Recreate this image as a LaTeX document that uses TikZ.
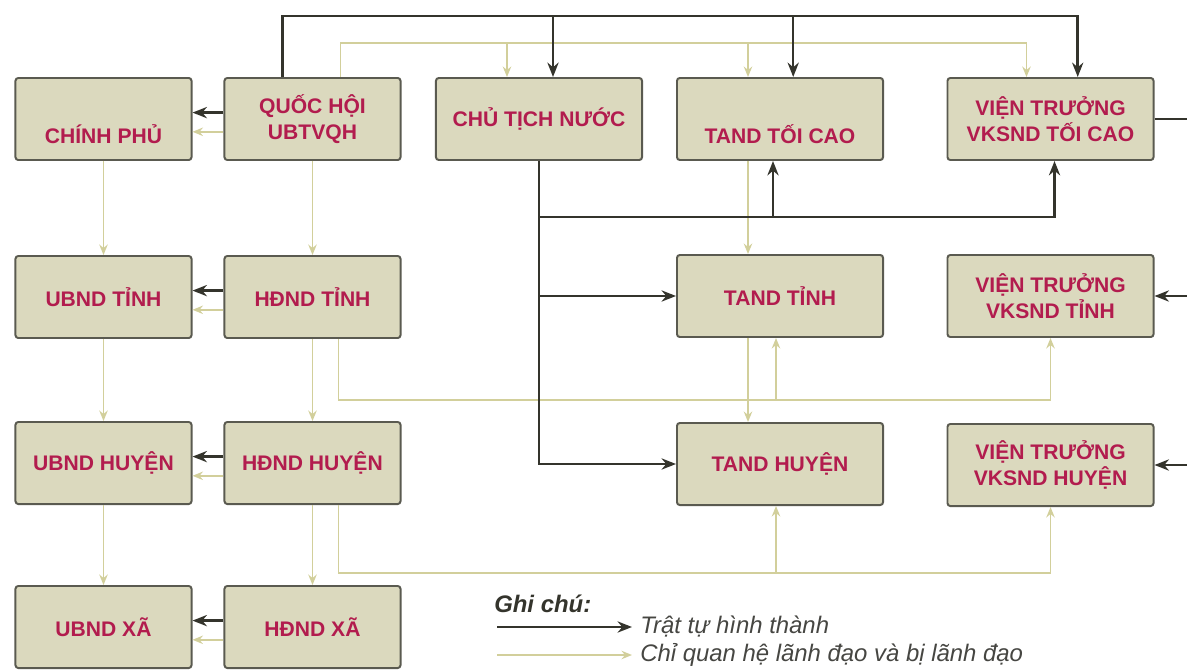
\documentclass[tikz,border=0pt]{standalone}
\usepackage{fontspec}
\setmainfont{Liberation Sans}
\usepackage{tikz}
\usepackage{xcolor}
\usetikzlibrary{arrows.meta, positioning, calc}
\definecolor{cBox}{RGB}{219,217,190}
\definecolor{cEdge}{RGB}{90,90,80}
\definecolor{cLabel}{RGB}{178,28,78}
\definecolor{cDark}{RGB}{52,52,44}
\definecolor{cLight}{RGB}{210,207,155}
\definecolor{cNote}{RGB}{70,70,66}
\tikzset{
	organ/.style    ={rectangle, rounded corners=2pt, draw=cEdge, line width=1.4pt, fill=cBox, minimum height=2.05cm, text centered, align=center, text=cLabel, font=\fontsize{15}{18}\selectfont\bfseries},
	narrow/.style   ={organ, minimum width=4.4cm},
	wide/.style     ={organ, minimum width=5.15cm},
	lowtext/.style  ={text height=1.2cm, text depth=0pt},
	% connector styles
	formline/.style ={line width=1.8pt, cDark},
	formarrow/.style={formline, -{Stealth[length=3.6mm, width=2.8mm]}},
	leadline/.style ={line width=1.3pt, cLight},
	leadarrow/.style={leadline, -{Stealth[length=2.6mm, width=2.1mm]}},
	% legend styles
	legtext/.style  ={anchor=west, inner sep=0pt, text=cNote, font=\fontsize{17}{19}\selectfont\itshape},
}

\begin{document}
\begin{tikzpicture}[x=0.025cm, y=-0.025cm]
\useasboundingbox (0,0) rectangle (1187,670);
\clip (0,0) rectangle (1187,670);
% boxes
\node[narrow, lowtext] (cp) at (103.5,119) {CHÍNH PHỦ};
\node[narrow] (qh) at (312.5,119) {QUỐC HỘI\\UBTVQH};
\node[wide] (ctn) at (539,119) {CHỦ TỊCH NƯỚC};
\node[wide, lowtext] (tc) at (780,119) {TAND TỐI CAO};
\node[wide] (vtc) at (1050.5,119) {VIỆN TRƯỞNG\\VKSND TỐI CAO};
\node[narrow] (ubt) at (103.5,297) {UBND TỈNH};
\node[narrow] (hdt) at (312.5,297) {HĐND TỈNH};
\node[wide] (tt) at (780,296) {TAND TỈNH};
\node[wide] (vtt) at (1050.5,296) {VIỆN TRƯỞNG\\VKSND TỈNH};
\node[narrow] (ubh) at (103.5,463) {UBND HUYỆN};
\node[narrow] (hdh) at (312.5,463) {HĐND HUYỆN};
\node[wide] (th) at (780,464) {TAND HUYỆN};
\node[wide] (vth) at (1050.5,465) {VIỆN TRƯỞNG\\VKSND HUYỆN};
\node[narrow] (ubx) at (103.5,627) {UBND XÃ};
\node[narrow] (hdx) at (312.5,627) {HĐND XÃ};

% bus levels
\coordinate (busA) at (0,16);
\coordinate (busB) at (0,43);
\coordinate (busC) at (0,217);
\coordinate (busD) at (0,400);
\coordinate (busE) at (0,573);
\coordinate (edgeR) at (1190,0);
\path ([xshift=-7.5mm]qh.north) coordinate (qhA)
      ([xshift=3.5mm]ctn.north) coordinate (ctnA)
      ([xshift=3.3mm]tc.north) coordinate (tcA)
      ([xshift=6.8mm]vtc.north) coordinate (vtcA)
      ([xshift=7mm]qh.north) coordinate (qhB)
      ([xshift=-8mm]ctn.north) coordinate (ctnB)
      ([xshift=-8mm]tc.north) coordinate (tcB)
      ([xshift=-6mm]vtc.north) coordinate (vtcB)
      ([xshift=-1.75mm]tc.south) coordinate (tcC)
      ([xshift=1mm]vtc.south) coordinate (vtcC)
      ([xshift=6.5mm]hdt.south) coordinate (hdtD)
      ([xshift=-1mm]tt.south) coordinate (ttD)
      ([xshift=6.5mm]hdh.south) coordinate (hdhE)
      ([xshift=-1mm]th.south) coordinate (thE);

% leadership (light)
\foreach \a/\b in {cp/ubt, ubt/ubh, ubh/ubx, qh/hdt, hdt/hdh, hdh/hdx}
	\draw[leadarrow] (\a) -- (\b);
\foreach \a/\b in {cp/qh, ubt/hdt, ubh/hdh, ubx/hdx}
	\draw[leadarrow] ([yshift=-3.2mm]\b.west) -- ([yshift=-3.2mm]\a.east);
\draw[leadarrow] (qhB) -- (qhB |- busB) -| (vtcB);
\draw[leadarrow] (ctnB |- busB) -- (ctnB);
\draw[leadarrow] (tcB |- busB) -- (tcB);
\draw[leadarrow] ([xshift=-8mm]tc.south) -- ([xshift=-8mm]tt.north);
\draw[leadarrow] ([xshift=-8mm]tt.south) -- ([xshift=-8mm]th.north);
\draw[leadarrow] (hdtD) -- (hdtD |- busD) -| (vtt.south);
\draw[leadarrow] (ttD |- busD) -- (ttD);
\draw[leadarrow] (hdhE) -- (hdhE |- busE) -| (vth.south);
\draw[leadarrow] (thE |- busE) -- (thE);

% formation (dark)
\foreach \a/\b in {cp/qh, ubt/hdt, ubh/hdh, ubx/hdx}
	\draw[formarrow] ([yshift=1.6mm]\b.west) -- ([yshift=1.6mm]\a.east);
\draw[formarrow] (qhA) -- (qhA |- busA) -| (vtcA);
\draw[formarrow] (ctnA |- busA) -- (ctnA);
\draw[formarrow] (tcA |- busA) -- (tcA);
\draw[formarrow] (ctn.south) |- (th.west);
\draw[formarrow] (ctn.south |- tt.west) -- (tt.west);
\draw[formarrow] (ctn.south |- busC) -| (vtcC);
\draw[formarrow] (tcC |- busC) -- (tcC);
\draw[formline] (vtc.east) -| (edgeR |- vth.east);
\draw[formarrow] (edgeR |- vtt.east) -- (vtt.east);
\draw[formarrow] (edgeR |- vth.east) -- (vth.east);

% legend
\node[legtext, text=cDark, font=\fontsize{17}{19}\selectfont\bfseries\itshape] (note) at (494,604) {Ghi chú:};
\coordinate (lgA) at (497,627);
\node[legtext] (lgAt) at (640,627) {Trật tự hình thành};
\draw[formarrow] (lgA) -- ([xshift=-2mm]lgAt.west);
\coordinate (lgB) at (497,655);
\node[legtext] (lgBt) at (640,655) {Chỉ quan hệ lãnh đạo và bị lãnh đạo};
\draw[leadarrow] (lgB) -- ([xshift=-2mm]lgBt.west);
\end{tikzpicture}
\end{document}
